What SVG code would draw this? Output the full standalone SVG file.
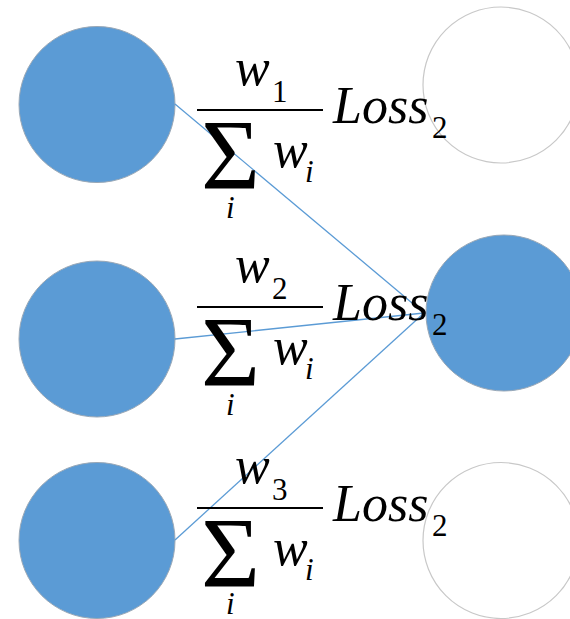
<svg xmlns="http://www.w3.org/2000/svg" width="570" height="619" viewBox="0 0 570 619">
<style>
.blue{fill:#5b9bd5;stroke:#9aa8b6;stroke-width:1}
.white{fill:#ffffff;stroke:#c8c8c8;stroke-width:1.2}
.conn{stroke:#5b9bd5;stroke-width:1.3;fill:none}
.bar{stroke:#000;stroke-width:2.2}
.t{font-family:'Liberation Serif','Times New Roman',serif;fill:#000}
.it{font-family:'Liberation Serif','Times New Roman',serif;font-style:italic;fill:#000}
</style>
<rect width="570" height="619" fill="#ffffff"/>
<g id="in1"><circle class="blue" cx="97" cy="104.5" r="78"/></g>
<g id="in2"><circle class="blue" cx="97" cy="339" r="78"/></g>
<g id="in3"><circle class="blue" cx="97" cy="540.5" r="78"/></g>
<g id="out1"><circle class="white" cx="501" cy="85" r="78"/></g>
<g id="out2"><circle class="blue" cx="504" cy="313" r="78"/></g>
<g id="out3"><circle class="white" cx="501" cy="540.5" r="78"/></g>
<g id="connectors">
<line class="conn" x1="175" y1="104" x2="424" y2="313"/>
<line class="conn" x1="175" y1="339" x2="424" y2="313"/>
<line class="conn" x1="175" y1="540" x2="424" y2="313"/>
</g>
<g id="formula1">
<line class="bar" x1="197" y1="110" x2="323" y2="110"/>
<text class="it" x="235" y="85" font-size="52">w</text>
<text class="t" x="272" y="102" font-size="31">1</text>
<text class="t" x="201" y="188" font-size="100" textLength="59" lengthAdjust="spacingAndGlyphs">Σ</text>
<text class="it" x="273" y="167" font-size="52">w</text>
<text class="it" x="305" y="182" font-size="31">i</text>
<text class="it" x="226" y="218" font-size="31">i</text>
<text class="it" x="333" y="123" font-size="52">Loss</text>
<text class="t" x="432" y="138" font-size="31">2</text>
</g>
<g id="formula2">
<line class="bar" x1="197" y1="307" x2="323" y2="307"/>
<text class="it" x="235" y="282" font-size="52">w</text>
<text class="t" x="272" y="299" font-size="31">2</text>
<text class="t" x="201" y="385" font-size="100" textLength="59" lengthAdjust="spacingAndGlyphs">Σ</text>
<text class="it" x="273" y="364" font-size="52">w</text>
<text class="it" x="305" y="379" font-size="31">i</text>
<text class="it" x="226" y="415" font-size="31">i</text>
<text class="it" x="333" y="320" font-size="52">Loss</text>
<text class="t" x="432" y="335" font-size="31">2</text>
</g>
<g id="formula3">
<line class="bar" x1="197" y1="508" x2="323" y2="508"/>
<text class="it" x="235" y="483" font-size="52">w</text>
<text class="t" x="272" y="500" font-size="31">3</text>
<text class="t" x="201" y="586" font-size="100" textLength="59" lengthAdjust="spacingAndGlyphs">Σ</text>
<text class="it" x="273" y="565" font-size="52">w</text>
<text class="it" x="305" y="580" font-size="31">i</text>
<text class="it" x="226" y="614" font-size="31">i</text>
<text class="it" x="333" y="521" font-size="52">Loss</text>
<text class="t" x="432" y="536" font-size="31">2</text>
</g>
</svg>
